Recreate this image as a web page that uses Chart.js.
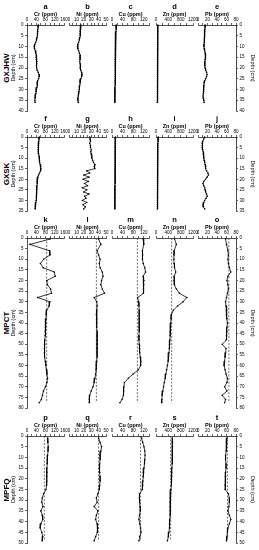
<!DOCTYPE html>
<html><head><meta charset="utf-8">
<script src="https://cdn.jsdelivr.net/npm/chart.js@4/dist/chart.umd.min.js"></script>
<style>
html,body{margin:0;padding:0;background:#fff;}
#wrap{position:relative;width:259px;height:550px;overflow:hidden;background:#fff;}
canvas{position:absolute;}
.rowname{position:absolute;width:100px;height:10px;line-height:10px;text-align:center;font:bold 8px "Liberation Sans",Arial,sans-serif;color:#000;transform:rotate(-90deg);white-space:nowrap;}
</style></head><body><div id="wrap"></div>
<script>
// ---------- data ----------
const siteNames = ['GXJHW', 'GXSK', 'MPCT', 'MPFQ'];
const panelLetters = [['a','b','c','d','e'],['f','g','h','i','j'],['k','l','m','n','o'],['p','q','r','s','t']];
const metalLabels = ['Cr (ppm)', 'Ni (ppm)', 'Cu (ppm)', 'Zn (ppm)', 'Pb (ppm)'];
const metalMax = [160, 50, 140, 1200, 80];
const metalMinorStep = [20, 5, 20, 200, 10];
const metalLabelStep = [40, 10, 40, 400, 20];
const depthMax = [40, 35, 80, 50];

const depthGXJHW = [0,1,2,3,4,5,6,7,8,9,10,11,12,13,14,15,16,17,18,19,20,21,22,23,24,25,26,27,28,29,30,31,32,33,34,35,36];
const crGXJHW = [49,48,47,46,45,45,43,41,38,34,31,33,36,38,40,39,41,43,42,41,42,44,48,52,53,50,46,44,45,43,40,39,38,36,35,34,35];
const niGXJHW = [16,16,15.5,15,15,15,14.5,14,13,12,11.5,12,13,14,15,15,15,14.5,15,15.5,15,16,17,17.5,17,16,15,15,14.5,14,14,13.5,13,12.5,12,12,12.5];
const cuGXJHW = [16,16,15.5,15,15,14.5,14,14,13.5,13.5,13,13,13,12.5,12.5,12.5,12,12,12,12,12,12,12.5,12.5,12,12,11.5,11.5,11.5,11,11,11,11,11,10.5,10.5,10.5];
const znGXJHW = [62,60,60,58,58,57,56,56,55,54,54,53,53,52,52,52,51,51,50,50,50,49,50,50,49,48,48,47,47,46,46,45,45,44,44,43,43];
const pbGXJHW = [15,15,14.5,14,14,14,13.5,13,13,12.5,12.5,13,14,15,16,16,15,14.5,14,14.5,15,16,18,19,18,16,14,13,12.5,12,12,11.5,11,10.5,11,12,13];

const depthGXSK = [0,1,2,3,4,5,6,7,8,9,10,11,12,13,14,15,16,17,18,19,20,21,22,23,24,25,26,27,28,29,30,31,32,33,34];
const crGXSK = [53,52,51,50,49,49,48,49,50,52,53,54,55,57,59,60,58,54,50,47,45,44,44,43,43,42,42,41,40,40,39,38,37,36,35];
const niGXSK = [28,28.5,29,28,29,29,30,29.5,30,30.5,31,32,33,35,34,35,24,28,20,27,19,26,21,25,18,24,20,27,21,23,18,24,19,22,20];
const cuGXSK = [13,13,13,12.5,12.5,12.5,12.5,12,12,12,12,12,12,12,12,12,12,11.5,11.5,11.5,11.5,11.5,11.5,11,11,11,11,11,11,11,10.5,10.5,10.5,10.5,10.5];
const znGXSK = [72,68,65,62,60,58,57,56,55,55,54,54,53,53,52,52,52,51,51,50,50,50,49,49,48,48,48,47,47,46,46,46,45,45,45];
const pbGXSK = [14,12,10,9,9,9,10,11,11,12,12.5,13,14,15,16,16,18,21,22,19,16,12,10.5,12,14,15,16,18,19.5,17,14,12,11,11,14];

const depthMPCT = [0.5,3,6,8,10,12,14,16,18,20,22,24,26,28,30,32,34,36,38,40,42,44,46,48,50,52,54,56,58,60,62,64,66,68,70,72,74,76,77.5];
const crMPCT = [100,13,97,99,72,58,70,118,122,86,88,102,106,46,99,96,85,83,82,81,80,79,78,77,76,75,75,77,79,81,84,86,89,86,80,71,67,62,53];
const niMPCT = [40,43,38,40,42,41,42,45,46,44,43,45,48,34,37.5,38,37.5,37,37.5,37.5,37.5,38,38,38,38,38,38,38,37.5,37,36.5,36,35,34,32.5,30,28,27.5,27.5];
const cuMPCT = [118,120,115,116,115,118,124,127,118,121,120,119,118,97,100,102,103,103,103,103,103,103,102,102,103,104,105,107,109,108,100,80,62,47,45,44,43,38,30];
const znMPCT = [600,660,590,585,580,585,600,640,590,585,600,660,760,1000,880,700,560,500,490,480,470,460,455,450,440,430,420,405,390,370,345,320,300,270,245,220,200,190,185];
const pbMPCT = [58,60,63,64,63,64,66,69,63,61,63,64,62,60,58,59,60,60,61,62,61,61,60,59,51,59,58,57,56,55,57,59,62,61,56,61,51,58,56];
const backgroundMPCT = [85, 37, 96, 508, 65];

const depthMPFQ = [1,3,5,7,9,11,13,15,17,19,21,23,25,27,29,31,33,35,37,39,41,43,45,47,49];
const crMPFQ = [89,90,92,91,89,88,87,86,86,85,85,84,82,72,66,64,69,60,66,68,60,57,64,68,66];
const niMPFQ = [40,42,44,43,42,42,41.5,41,41.5,42,42,41.5,41,39,37,38,34,39,37,36,38,39,38,36,34];
const cuMPFQ = [112,116,121,124,125,124,123,121,119,118,117,116,114,104,103,105,106,107,104,102,105,108,110,105,102];
const znMPFQ = [530,535,535,530,528,525,520,515,510,505,500,495,485,470,460,455,460,465,455,445,440,435,420,400,370];
const pbMPFQ = [61,60,60,59,58,58,59,59,58,58,58,57,57,64,66,66,65,63,66,69,66,63,62,61,60];
const backgroundMPFQ = [75, 40, 108, 475, 62];

const rows = [
  {depth: depthGXJHW, series: [crGXJHW, niGXJHW, cuGXJHW, znGXJHW, pbGXJHW], bg: null},
  {depth: depthGXSK, series: [crGXSK, niGXSK, cuGXSK, znGXSK, pbGXSK], bg: null},
  {depth: depthMPCT, series: [crMPCT, niMPCT, cuMPCT, znMPCT, pbMPCT], bg: backgroundMPCT},
  {depth: depthMPFQ, series: [crMPFQ, niMPFQ, cuMPFQ, znMPFQ, pbMPFQ], bg: backgroundMPFQ}
];

// ---------- layout ----------
const W = 259;
const colLeft = [27, 69, 112, 156, 198];
const colRight = [64, 106, 149, 193, 236];
const rowTop = [25, 137, 238, 436];
const rowBottom = [111, 211, 408, 543];
const TITLE_H = 9, AXIS_H = 14, HEAD = TITLE_H + AXIS_H, PADB = 6, SIDE = 8;
const FAM = '"Liberation Sans", Arial, sans-serif';
Chart.defaults.font.family = FAM;
Chart.defaults.color = '#000';

const wrap = document.getElementById('wrap');

rows.forEach((row, r) => {
  const nm = document.createElement('div');
  nm.className = 'rowname';
  nm.textContent = siteNames[r];
  const ymid = (rowTop[r] + rowBottom[r]) / 2;
  nm.style.left = (6.5 - 50) + 'px';
  nm.style.top = (ymid - 5) + 'px';
  wrap.appendChild(nm);

  for (let c = 0; c < 5; c++) {
    const cl = c === 0 ? 0 : colLeft[c] - SIDE;
    const cr = c === 4 ? W : colRight[c] + SIDE;
    const ct = rowTop[r] - HEAD;
    const cw = cr - cl;
    const ch = (rowBottom[r] - rowTop[r]) + HEAD + PADB;
    const cv = document.createElement('canvas');
    cv.width = cw; cv.height = ch;
    cv.style.left = cl + 'px'; cv.style.top = ct + 'px';
    cv.style.width = cw + 'px'; cv.style.height = ch + 'px';
    wrap.appendChild(cv);

    const pts = row.depth.map((d, i) => ({x: row.series[c][i], y: d}));
    const datasets = [{
      data: pts, showLine: true, borderColor: '#000', borderWidth: 0.8,
      pointRadius: 0.8, pointBackgroundColor: '#000', pointBorderWidth: 0, clip: 4, order: 1
    }];
    if (row.bg) {
      datasets.push({
        data: [{x: row.bg[c], y: 0}, {x: row.bg[c], y: row.depth[row.depth.length - 1]}],
        showLine: true, borderColor: '#333', borderWidth: 0.7, borderDash: [2, 1.5],
        pointRadius: 0, clip: 4, order: 2
      });
    }
    const showY = (c === 0 || c === 4);
    const yWidth = c === 0 ? colLeft[0] : W - colRight[4];
    const labelStep = metalLabelStep[c];
    new Chart(cv, {
      type: 'scatter',
      data: {datasets},
      options: {
        responsive: false, animation: false, devicePixelRatio: 1,
        events: [],
        layout: {autoPadding: false, padding: {left: c === 0 ? 0 : SIDE, right: c === 4 ? 0 : SIDE, top: 0, bottom: PADB}},
        plugins: {
          legend: {display: false}, tooltip: {enabled: false},
          title: {display: true, text: panelLetters[r][c], fullSize: false, color: '#000',
                  font: {size: 7.5, weight: 'bold', lineHeight: 1.2}, padding: {top: 0, bottom: 0}}
        },
        scales: {
          x: {
            type: 'linear', position: 'top', min: 0, max: metalMax[c],
            afterFit: s => { s.height = AXIS_H; s.paddingLeft = 0; s.paddingRight = 0; },
            ticks: {stepSize: metalMinorStep[c], autoSkip: false, maxRotation: 0, minRotation: 0,
                    font: {size: 4.5}, color: '#000', padding: 1,
                    callback: v => (Math.round(v) % labelStep === 0 ? String(v) : '')},
            grid: {drawOnChartArea: false, drawTicks: true, tickLength: 2, color: '#000', lineWidth: 0.6},
            border: {display: true, color: '#000', width: 0.7},
            title: {display: true, text: metalLabels[c], color: '#000',
                    font: {size: 5.5, weight: 'bold', lineHeight: 1.2}, padding: {top: 0, bottom: 0}}
          },
          y: {
            type: 'linear', position: c === 4 ? 'right' : 'left', reverse: true,
            min: 0, max: depthMax[r], display: showY,
            afterFit: s => { if (showY) { s.width = yWidth; } s.paddingTop = 0; s.paddingBottom = 0; },
            ticks: {stepSize: 5, autoSkip: false, font: {size: 4.5}, color: '#000', padding: 1.5},
            grid: {drawOnChartArea: false, drawTicks: true, tickLength: 2, color: '#000', lineWidth: 0.6},
            border: {display: true, color: '#000', width: 0.7},
            title: {display: true, text: 'Depth (cm)', color: '#000',
                    font: {size: 5.5, lineHeight: 1.2},
                    padding: c === 0 ? {top: 10.5, bottom: 0} : {top: 3.5, bottom: 0}}
          }
        }
      }
    });
  }
});
</script></body></html>
